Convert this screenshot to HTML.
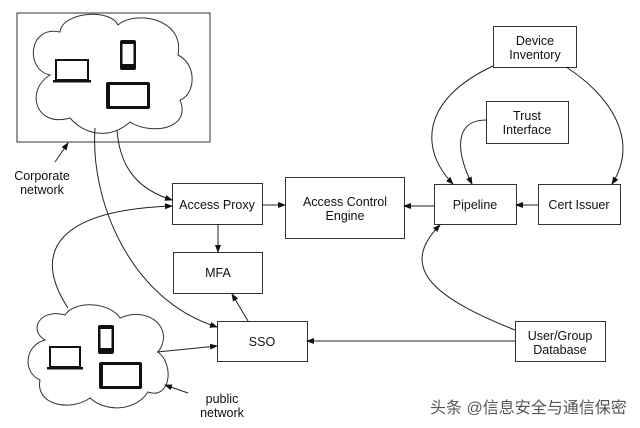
<!DOCTYPE html>
<html><head><meta charset="utf-8"><style>
html,body{margin:0;padding:0;background:#fff;width:640px;height:428px;overflow:hidden}
svg{display:block}
text{font-family:"Liberation Sans",sans-serif;font-size:12.5px;fill:#111}
</style></head><body>
<svg width="640" height="428" viewBox="0 0 640 428" xmlns="http://www.w3.org/2000/svg">
<defs>
<marker id="a" markerWidth="8" markerHeight="8" refX="7" refY="4" orient="auto" markerUnits="userSpaceOnUse">
<path d="M0,1 L8,4 L0,7 Z" fill="#111"/></marker>
</defs>
<g fill="none" stroke="#333" stroke-width="1">
<rect x="17" y="13" width="193" height="129"/>
<path d="M50,75 C25,70 28,25 60,32 C62,12 110,8 118,25 C135,10 185,18 178,55 C198,65 195,95 180,100 C192,130 150,135 130,122 C110,140 85,135 70,118 C35,128 25,90 50,75 Z"/>
<path d="M45,340 C28,330 40,308 65,315 C75,300 110,302 120,318 C150,305 175,330 158,352 C175,365 170,400 148,392 C135,412 105,412 90,398 C70,412 35,405 40,380 C22,372 25,345 45,340 Z"/>
<rect x="172.5" y="183.5" width="90" height="41"/>
<rect x="285.5" y="177.5" width="119" height="61"/>
<rect x="173.5" y="252.5" width="89" height="41"/>
<rect x="217.5" y="321.5" width="90" height="40"/>
<rect x="434.5" y="184.5" width="82" height="40"/>
<rect x="538.5" y="184.5" width="82" height="40"/>
<rect x="493.5" y="26.5" width="83" height="41"/>
<rect x="486.5" y="101.5" width="82" height="42"/>
<rect x="515.5" y="321.5" width="90" height="40"/>
</g>
<g fill="none" stroke="#222" stroke-width="1" marker-end="url(#a)">
<path d="M117,130 C120,170 140,190 172,200"/>
<path d="M95,128 C90,200 130,300 217,327"/>
<path d="M68,308 C30,250 60,210 172,206"/>
<path d="M157,352 L217,346"/>
<path d="M55,162 L68,143"/>
<path d="M188,393 L165,385"/>
<path d="M262,205 L285,205"/>
<path d="M218,224 L218,252"/>
<path d="M248,321 L232,294"/>
<path d="M515,341 L307,341"/>
<path d="M515,330 C440,300 395,270 440,225"/>
<path d="M434,206 L404,206"/>
<path d="M538,205 L516,205"/>
<path d="M493,66 C420,100 420,150 453,184"/>
<path d="M566,67 C610,95 640,140 612,184"/>
<path d="M486,120 C455,120 455,150 472,184"/>
</g>
<g fill="#111">
<rect x="56" y="60" width="32" height="20" fill="none" stroke="#111" stroke-width="2"/>
<rect x="53" y="80" width="38" height="2.5"/>
<rect x="120" y="40" width="16" height="30" rx="2"/>
<rect x="122.5" y="44" width="11" height="20" fill="#fff"/>
<rect x="106" y="82" width="44" height="27" rx="2"/>
<rect x="110" y="85" width="37" height="21" fill="#fff"/>
<rect x="50" y="347" width="30" height="20" fill="none" stroke="#111" stroke-width="2"/>
<rect x="47" y="367" width="36" height="2.5"/>
<rect x="98" y="325" width="16" height="29" rx="2"/>
<rect x="100.5" y="329" width="11" height="19" fill="#fff"/>
<rect x="99" y="362" width="43" height="27" rx="2"/>
<rect x="103" y="365" width="36" height="21" fill="#fff"/>
</g>
<g text-anchor="middle">
<text x="217" y="209">Access Proxy</text>
<text x="345" y="206">Access Control</text>
<text x="345" y="220">Engine</text>
<text x="218" y="277">MFA</text>
<text x="262" y="346">SSO</text>
<text x="475" y="209">Pipeline</text>
<text x="579" y="209">Cert Issuer</text>
<text x="535" y="45">Device</text>
<text x="535" y="59">Inventory</text>
<text x="527" y="120">Trust</text>
<text x="527" y="134">Interface</text>
<text x="560" y="340">User/Group</text>
<text x="560" y="354">Database</text>
<text x="42" y="180">Corporate</text>
<text x="42" y="194">network</text>
<text x="222" y="403">public</text>
<text x="222" y="417">network</text>
</g>
<text x="430" y="413" style="font-family:'Liberation Sans','Noto Sans CJK SC',sans-serif;font-size:16px;fill:#555">头条 @信息安全与通信保密</text>
</svg>
</body></html>
